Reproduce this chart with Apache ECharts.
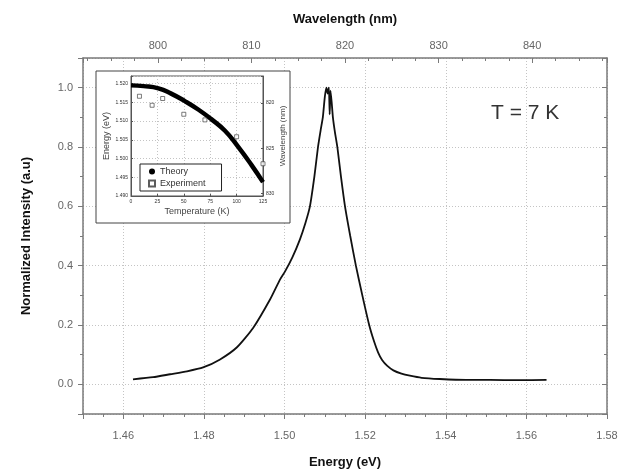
<!DOCTYPE html>
<html>
<head>
<meta charset="utf-8">
<script src="https://cdn.jsdelivr.net/npm/echarts@6/dist/echarts.min.js"></script>
<style>
  html, body { margin: 0; padding: 0; background: #fff; }
  #chart { width: 621px; height: 474px; }
</style>
</head>
<body>
<div id="chart"></div>
<script>
// main spectrum (eV, normalized)
const energy = [1.4624, 1.4674, 1.4716, 1.4758, 1.4798, 1.4840, 1.4882, 1.4922, 1.4964, 1.4989, 1.5001,
  1.5020, 1.5038, 1.5052, 1.5063, 1.5074, 1.5083, 1.5090, 1.5095, 1.5100, 1.5104, 1.5107, 1.5110,
  1.5112, 1.5114, 1.5117, 1.5120, 1.5125, 1.5131, 1.5140, 1.5150, 1.5163, 1.5177, 1.5193, 1.5210,
  1.5222, 1.5232, 1.5242, 1.5255, 1.5270, 1.5290, 1.5311, 1.5340, 1.5385, 1.5450, 1.5510, 1.5580, 1.5650];
const intensity = [0.017, 0.024, 0.034, 0.044, 0.057, 0.084, 0.125, 0.190, 0.286, 0.354, 0.380,
  0.430, 0.488, 0.545, 0.600, 0.700, 0.800, 0.860, 0.900, 0.970, 1.000, 0.980, 1.000,
  0.910, 0.990, 0.950, 0.900, 0.850, 0.800, 0.700, 0.600, 0.500, 0.400, 0.300, 0.200,
  0.145, 0.108, 0.082, 0.062, 0.047, 0.036, 0.029, 0.022, 0.018, 0.015, 0.015, 0.014, 0.015];

// inset
const tempTheory = [0, 12, 26, 38, 51, 64, 76, 89, 101, 114, 125];
const energyTheory = [1.5195, 1.5193, 1.5187, 1.5173, 1.5153, 1.5130, 1.5105, 1.5074, 1.5033, 1.4983, 1.4937];
const tempExp = [8, 20, 30, 50, 70, 100, 125];
const energyExp = [1.5166, 1.5142, 1.5160, 1.5118, 1.5103, 1.5058, 1.4986];

const font = 'Liberation Sans, Arial, sans-serif';
const gridDots = { show: true, lineStyle: { color: '#c4c4c4', width: 1, type: [1, 2] } };
const frameLine = { show: true, onZero: false, lineStyle: { color: '#7a7a7a', width: 1.5 } };
const insetLine = { show: true, onZero: false, lineStyle: { color: '#555', width: 1 } };

const onStep = (v, step) => Math.abs(v / step - Math.round(v / step)) < 1e-6;

const chart = echarts.init(document.getElementById('chart'));

const option = {
  animation: false,
  backgroundColor: '#fff',
  textStyle: { fontFamily: font },
  grid: [
    { left: 83, right: 14, top: 58, bottom: 59 },
    { left: 131, right: 358, top: 76, bottom: 278, show: true, z: 3,
      borderColor: '#555', borderWidth: 1, backgroundColor: 'transparent' }
  ],
  legend: {
    data: [{ name: 'Theory', icon: 'circle' }, { name: 'Experiment', icon: 'rect' }],
    orient: 'vertical',
    left: 140,
    top: 164,
    itemWidth: 6,
    itemHeight: 6,
    itemGap: 3,
    padding: [3, 16, 3, 8],
    borderColor: '#222',
    borderWidth: 1,
    backgroundColor: '#fff',
    textStyle: { fontSize: 9, color: '#333', fontFamily: font },
    z: 8
  },
  graphic: [
    {
      type: 'rect', z: 1,
      shape: { x: 96, y: 71, width: 194, height: 152 },
      style: { fill: '#fff', stroke: '#444', lineWidth: 1 }
    },
    {
      type: 'text', z: 3, left: 491, top: 103,
      style: { text: 'T = 7 K', font: '21px ' + font, fill: '#333' }
    }
  ],
  xAxis: [
    {
      type: 'value', gridIndex: 0, position: 'bottom',
      min: 1.45, max: 1.58, splitNumber: 6, minInterval: 0.02, maxInterval: 0.02,
      name: 'Energy (eV)', nameLocation: 'middle', nameGap: 42,
      nameTextStyle: { fontSize: 13, fontWeight: 'bold', color: '#111' },
      axisLine: frameLine,
      axisTick: { length: 5, lineStyle: { color: '#7a7a7a' } },
      minorTick: { show: true, splitNumber: 4, length: 3, lineStyle: { color: '#7a7a7a' } },
      axisLabel: { fontSize: 11, color: '#666', margin: 16,
        formatter: v => onStep(v, 0.02) ? v.toFixed(2) : '' },
      splitLine: gridDots
    },
    {
      type: 'value', gridIndex: 0, position: 'top',
      min: 792, max: 848, splitNumber: 5, minInterval: 10, maxInterval: 10,
      name: 'Wavelength (nm)', nameLocation: 'middle', nameGap: 32,
      nameTextStyle: { fontSize: 13, fontWeight: 'bold', color: '#111' },
      axisLine: frameLine,
      axisTick: { inside: true, length: 5, lineStyle: { color: '#7a7a7a' } },
      minorTick: { show: true, splitNumber: 4, length: 3, lineStyle: { color: '#7a7a7a' } },
      axisLabel: { fontSize: 11, color: '#666', margin: 7,
        formatter: v => onStep(v, 10) ? String(Math.round(v)) : '' },
      splitLine: { show: false }
    },
    {
      type: 'value', gridIndex: 1, z: 3,
      min: 0, max: 125, interval: 25,
      name: 'Temperature (K)', nameLocation: 'middle', nameGap: 11,
      nameTextStyle: { fontSize: 9, color: '#444' },
      axisLine: insetLine,
      axisTick: { inside: true, length: 2, lineStyle: { color: '#555' } },
      axisLabel: { fontSize: 5, color: '#333', margin: 3 },
      splitLine: gridDots
    }
  ],
  yAxis: [
    {
      type: 'value', gridIndex: 0, position: 'left',
      min: -0.1, max: 1.1, splitNumber: 6, minInterval: 0.2, maxInterval: 0.2,
      name: 'Normalized Intensity (a.u)', nameLocation: 'middle', nameGap: 50,
      nameTextStyle: { fontSize: 13, fontWeight: 'bold', color: '#111' },
      axisLine: frameLine,
      axisTick: { length: 5, lineStyle: { color: '#7a7a7a' } },
      minorTick: { show: true, splitNumber: 2, length: 3, lineStyle: { color: '#7a7a7a' } },
      axisLabel: { fontSize: 11, color: '#666', margin: 10,
        formatter: v => onStep(v, 0.2) ? Math.abs(v).toFixed(1) : '' },
      splitLine: gridDots
    },
    {
      type: 'value', gridIndex: 0, position: 'right',
      min: -0.1, max: 1.1, splitNumber: 6, minInterval: 0.2, maxInterval: 0.2,
      axisLine: frameLine,
      axisTick: { inside: true, length: 5, lineStyle: { color: '#7a7a7a' } },
      minorTick: { show: true, splitNumber: 2, length: 3, lineStyle: { color: '#7a7a7a' } },
      axisLabel: { show: false },
      splitLine: { show: false }
    },
    {
      type: 'value', gridIndex: 1, position: 'left', z: 3,
      min: 1.49, max: 1.522, interval: 0.005,
      name: 'Energy (eV)', nameLocation: 'middle', nameGap: 20,
      nameTextStyle: { fontSize: 9, color: '#444' },
      axisLine: insetLine,
      axisTick: { inside: true, length: 2, lineStyle: { color: '#555' } },
      axisLabel: { fontSize: 5, color: '#333', margin: 3,
        formatter: v => onStep(v, 0.005) ? v.toFixed(3) : '' },
      splitLine: gridDots
    },
    {
      type: 'value', gridIndex: 1, position: 'right', z: 3, inverse: true,
      min: 817, max: 830.3, splitNumber: 3, minInterval: 5, maxInterval: 5,
      name: 'Wavelength (nm)', nameLocation: 'middle', nameGap: 16, nameRotate: 90,
      nameTextStyle: { fontSize: 8, color: '#444' },
      axisLine: insetLine,
      axisTick: { inside: true, length: 2, lineStyle: { color: '#555' } },
      axisLabel: { fontSize: 5, color: '#333', margin: 3,
        formatter: v => onStep(v, 5) ? String(Math.round(v)) : '' },
      splitLine: { show: false }
    }
  ],
  series: [
    {
      type: 'line', xAxisIndex: 0, yAxisIndex: 0, z: 2,
      data: energy.map((e, i) => [e, intensity[i]]),
      showSymbol: false, smooth: 0.2,
      lineStyle: { color: '#111', width: 1.8 }
    },
    {
      name: 'Theory', type: 'line', xAxisIndex: 2, yAxisIndex: 2, z: 5,
      data: tempTheory.map((t, i) => [t, energyTheory[i]]),
      showSymbol: false, smooth: true, symbol: 'circle',
      itemStyle: { color: '#000' },
      lineStyle: { color: '#000', width: 4.5 }
    },
    {
      name: 'Experiment', type: 'scatter', xAxisIndex: 2, yAxisIndex: 2, z: 6,
      data: tempExp.map((t, i) => [t, energyExp[i]]),
      symbol: 'rect', symbolSize: 4,
      itemStyle: { color: '#fff', borderColor: '#333', borderWidth: 0.8 }
    }
  ]
};

chart.setOption(option);
</script>
</body>
</html>
